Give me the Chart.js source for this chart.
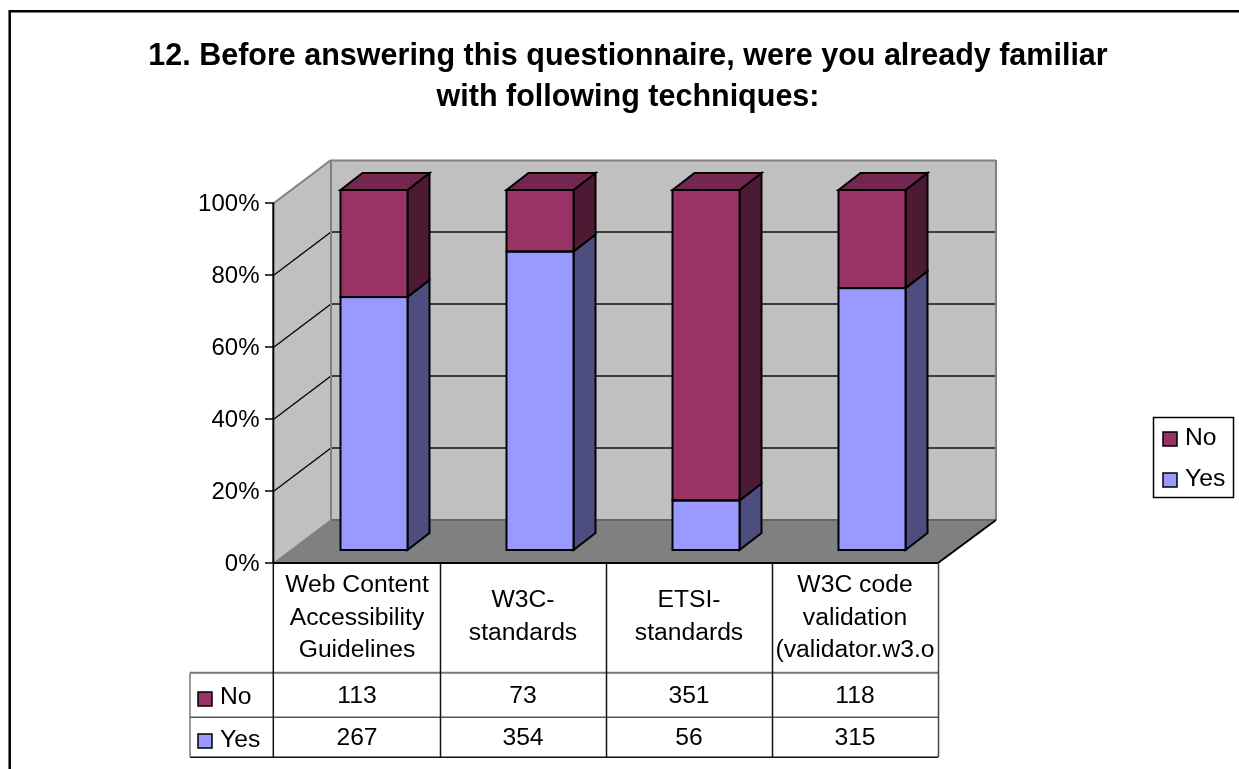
<!DOCTYPE html>
<html><head><meta charset="utf-8">
<script src="https://cdn.jsdelivr.net/npm/chart.js@4"></script>
<style>html,body{margin:0;padding:0;background:#fff;overflow:hidden}canvas{display:block}</style>
</head><body><canvas id="c" width="1239" height="769"></canvas>
<script>
const categoryLines = [["Web Content","Accessibility","Guidelines"],["W3C-","standards"],["ETSI-","standards"],["W3C code","validation","(validator.w3.o"]];
const noValues = [113,73,351,118];
const yesValues = [267,354,56,315];
const yTicks = [0,20,40,60,80,100];
const titleLines = ["12. Before answering this questionnaire, were you already familiar","with following techniques:"];
const FONT='"Liberation Sans",Arial,sans-serif';
const COL={no:'#993366',yes:'#9999FF',noSide:'#4D1A33',noTop:'#732650',yesSide:'#4D4D80',wall:'#C0C0C0',floor:'#808080',edge:'#808080'};
const yesPct=yesValues.map((v,i)=>v/(v+noValues[i])*100);
const noPct=noValues.map((v,i)=>v/(v+yesValues[i])*100);
const F={dx:-17,dy:13}, B={dx:40,dy:-30}, BAR={dx:22,dy:-17};
function poly(ctx,pts,fill,stroke,lw){ctx.beginPath();pts.forEach((p,i)=>i?ctx.lineTo(p[0],p[1]):ctx.moveTo(p[0],p[1]));ctx.closePath();if(fill){ctx.fillStyle=fill;ctx.fill();}if(stroke){ctx.strokeStyle=stroke;ctx.lineWidth=lw||1;ctx.stroke();}}
function line(ctx,x1,y1,x2,y2,c,lw){ctx.beginPath();ctx.moveTo(x1,y1);ctx.lineTo(x2,y2);ctx.strokeStyle=c;ctx.lineWidth=lw||1;ctx.stroke();}
const scene={id:'scene',
 beforeDatasetsDraw(chart){
  const ctx=chart.ctx,a=chart.chartArea,y=chart.scales.y;ctx.save();
  const l=a.left,r=a.right,t=a.top,b=a.bottom;
  const fl=l+F.dx,fr=r+F.dx,ft=t+F.dy,fb=b+F.dy,bl=l+B.dx,br=r+B.dx+1,bt=t+B.dy,bb=b+B.dy;
  poly(ctx,[[bl,bt],[br,bt],[br,bb],[bl,bb]],COL.wall);
  poly(ctx,[[fl,ft],[bl,bt],[bl,bb],[fl,fb]],COL.wall);
  poly(ctx,[[fl,fb],[fr,fb],[br,bb],[bl,bb]],COL.floor);
  yTicks.slice(1,-1).forEach(v=>{const p=y.getPixelForValue(v);
    line(ctx,fl,p+F.dy,bl,p+B.dy,'#000',1.3);line(ctx,bl,p+B.dy,br,p+B.dy,'#111',1.5);});
  line(ctx,fl,ft,bl,bt,COL.edge,2);line(ctx,bl,bt+.5,br,bt+.5,COL.edge,2);line(ctx,br,bt,br,bb,COL.edge,2);
  line(ctx,bl,bt,bl,bb,COL.edge,2);line(ctx,bl,bb,br,bb,'#666',2);line(ctx,fl,fb,bl,bb,COL.edge,1.5);
  line(ctx,fr,fb,br,bb,'#000',2);
  chart.data.datasets.forEach((ds,i)=>{chart.getDatasetMeta(i).data.forEach(el=>{
    const xr=el.x+el.width/2,xl=el.x-el.width/2;
    poly(ctx,[[xr,el.y],[xr+BAR.dx,el.y+BAR.dy],[xr+BAR.dx,el.base+BAR.dy],[xr,el.base]],i?COL.noSide:COL.yesSide,'#000',2);
    if(i===1)poly(ctx,[[xl,el.y],[xl+BAR.dx,el.y+BAR.dy],[xr+BAR.dx,el.y+BAR.dy],[xr,el.y]],COL.noTop,'#000',2);
  });});
  ctx.restore();
 },
 afterDatasetsDraw(chart){
  const ctx=chart.ctx;ctx.save();ctx.strokeStyle='#000';ctx.lineWidth=2;
  chart.data.datasets.forEach((ds,i)=>{chart.getDatasetMeta(i).data.forEach(el=>{
    ctx.strokeRect(el.x-el.width/2,el.y,el.width,el.base-el.y);});});
  ctx.restore();
 },
 afterDraw(chart){
  const ctx=chart.ctx,a=chart.chartArea,y=chart.scales.y,x=chart.scales.x;ctx.save();
  const fl=a.left+F.dx,fr=a.right+F.dx,ft=a.top+F.dy,fb=a.bottom+F.dy;
  ctx.strokeStyle='#000';ctx.lineWidth=2.5;ctx.beginPath();ctx.moveTo(9.7,780);ctx.lineTo(9.7,11.3);ctx.lineTo(1250,11.3);ctx.stroke();
  ctx.fillStyle='#000';ctx.textAlign='center';ctx.textBaseline='alphabetic';ctx.font='bold 30.5px '+FONT;
  titleLines.forEach((s,i)=>ctx.fillText(s,628,65+i*41));
  line(ctx,fl-.7,ft,fl-.7,fb,'#000',2);
  ctx.font='24px '+FONT;ctx.textAlign='right';
  yTicks.forEach(v=>{const p=y.getPixelForValue(v)+F.dy;line(ctx,fl-9,p,fl,p,'#000',1.5);ctx.fillStyle='#000';ctx.fillText(v+'%',259.5,p+8);});
  const cw=(fr-fl)/categoryLines.length,tb=757.3,r1=672.7,r2=717.3,left=190;
  line(ctx,fl-1,fb,fr,fb,'#000',2);
  line(ctx,left,r1,fr,r1,'#777',2);line(ctx,left,r2,fr,r2,'#555',1.5);line(ctx,left,tb,fr,tb,'#111',1.5);
  line(ctx,left,r1,left,tb,'#777',1.5);
  for(let i=0;i<=categoryLines.length;i++){const xx=fl+i*cw+(i?.5:-.7);line(ctx,xx,fb,xx,tb,i<categoryLines.length?'#111':'#444',1.5);}
  ctx.textAlign='center';ctx.fillStyle='#000';ctx.font='24.7px '+FONT;
  categoryLines.forEach((ls,i)=>{const c=x.getPixelForValue(i)+F.dx;const st=ls.length===3?592:607;
    ls.forEach((s,j)=>ctx.fillText(s,c,st+j*32.6));
    ctx.fillText(noValues[i],c,703);ctx.fillText(yesValues[i],c,745);});
  const key=(xk,yk,c,txt,yt)=>{ctx.fillStyle=c;ctx.fillRect(xk,yk,14,14);ctx.strokeStyle='#000';ctx.lineWidth=1.5;ctx.strokeRect(xk,yk,14,14);ctx.fillStyle='#000';ctx.textAlign='left';ctx.fillText(txt,xk+22,yt);};
  key(198,692,COL.no,'No',704);key(198,734,COL.yes,'Yes',746.5);
  ctx.strokeStyle='#000';ctx.lineWidth=1.5;ctx.strokeRect(1153.5,417.5,80,80);
  key(1163,432,COL.no,'No',444.5);key(1163,473,COL.yes,'Yes',486);
  ctx.restore();
 }};
new Chart(document.getElementById('c'),{type:'bar',
 data:{labels:categoryLines.map(l=>l.join(' ')),datasets:[
  {label:'Yes',data:yesPct,backgroundColor:COL.yes,borderWidth:0,barThickness:67,stack:'s'},
  {label:'No',data:noPct,backgroundColor:COL.no,borderWidth:0,barThickness:67,stack:'s'}]},
 options:{responsive:false,animation:false,events:[],
  layout:{padding:{left:291,right:284,top:190,bottom:219}},
  plugins:{legend:{display:false},title:{display:false},tooltip:{enabled:false}},
  scales:{x:{display:false,stacked:true},y:{display:false,stacked:true,min:0,max:100}}},
 plugins:[scene]});
</script></body></html>
